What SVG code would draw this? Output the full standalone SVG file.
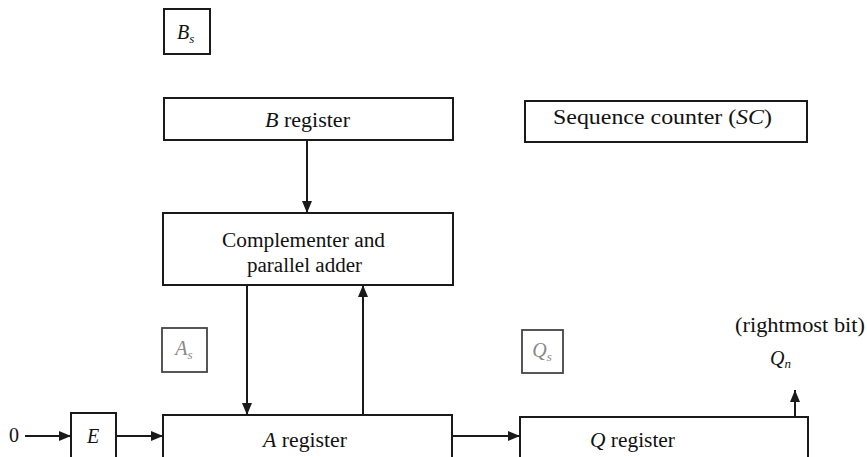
<svg xmlns="http://www.w3.org/2000/svg" width="867" height="457" viewBox="0 0 867 457">
<style>
.box{fill:none;stroke:#1a1a1a;stroke-width:2}
.faint{fill:none;stroke:#444;stroke-width:1.8}
.wire{fill:none;stroke:#1a1a1a;stroke-width:2}
text{font-family:"Liberation Serif","Times New Roman",serif;font-size:20px;fill:#111}
.c{text-anchor:middle}
.i{font-style:italic}
.pale{fill:#888}
</style>
<defs>
<marker id="ah" markerUnits="userSpaceOnUse" markerWidth="12" markerHeight="10" refX="12" refY="5" orient="auto">
<path d="M0,0 L12,5 L0,10 Z" fill="#1a1a1a"/>
</marker>
</defs>
<rect width="867" height="457" fill="#fff"/>
<g id="Bs"><rect class="box" x="164" y="9" width="46" height="45"/><text x="177" y="39" class="i" font-size="21">B<tspan font-size="13" dy="4">s</tspan></text></g>
<g id="Breg"><rect class="box" x="164" y="98" width="289" height="42"/><text x="265" y="127" textLength="85" lengthAdjust="spacingAndGlyphs"><tspan class="i">B</tspan> register</text></g>
<g id="SC"><rect class="box" x="525" y="101" width="282" height="41"/><text x="553" y="124" textLength="219" lengthAdjust="spacingAndGlyphs">Sequence counter (<tspan class="i">SC</tspan>)</text></g>
<g id="adder"><rect class="box" x="163" y="213" width="290" height="72"/><text x="222" y="247" textLength="163" lengthAdjust="spacingAndGlyphs">Complementer and</text><text x="247" y="272" textLength="115" lengthAdjust="spacingAndGlyphs">parallel adder</text></g>
<g id="As"><rect class="faint" x="162" y="328" width="45" height="44"/><text x="184" y="355" class="c i pale">A<tspan font-size="13" dy="4">s</tspan></text></g>
<g id="Qs"><rect class="faint" x="522" y="330" width="41" height="43"/><text x="542" y="357" class="c i pale">Q<tspan font-size="13" dy="4">s</tspan></text></g>
<g id="zero"><text x="9" y="442">0</text></g>
<g id="E"><rect class="box" x="71" y="413" width="45" height="60"/><text x="93" y="443" class="c i" font-size="21">E</text></g>
<g id="Areg"><rect class="box" x="163" y="415" width="289" height="60"/><text x="263" y="447" textLength="84" lengthAdjust="spacingAndGlyphs"><tspan class="i">A</tspan> register</text></g>
<g id="Qreg"><rect class="box" x="520" y="417" width="288" height="60"/><text x="590" y="447" textLength="85" lengthAdjust="spacingAndGlyphs"><tspan class="i">Q</tspan> register</text></g>
<g id="Qn"><text x="735" y="332" textLength="130" lengthAdjust="spacingAndGlyphs">(rightmost bit)</text><text x="770" y="365" class="i">Q<tspan font-size="13" dy="3">n</tspan></text></g>
<g id="connectors">
<line class="wire" x1="307" y1="140" x2="307" y2="213" marker-end="url(#ah)"/>
<line class="wire" x1="247" y1="285" x2="247" y2="415" marker-end="url(#ah)"/>
<line class="wire" x1="363" y1="415" x2="363" y2="285" marker-end="url(#ah)"/>
<line class="wire" x1="25" y1="436" x2="71" y2="436" marker-end="url(#ah)"/>
<line class="wire" x1="116" y1="436" x2="163" y2="436" marker-end="url(#ah)"/>
<line class="wire" x1="452" y1="436" x2="520" y2="436" marker-end="url(#ah)"/>
<line class="wire" x1="795" y1="417" x2="795" y2="390" marker-end="url(#ah)"/>
</g>
</svg>
